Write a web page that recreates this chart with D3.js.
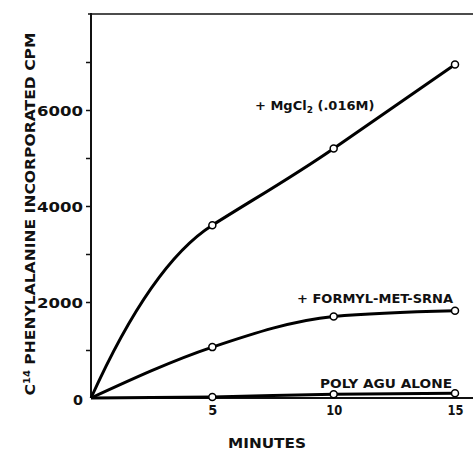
<!DOCTYPE html>
<html>
<head>
<meta charset="utf-8">
<script src="https://cdn.jsdelivr.net/npm/d3@7"></script>
<style>
  body { margin: 0; background: #fff; }
  svg { display: block; font-family: "DejaVu Sans", sans-serif; font-weight: bold; }
</style>
</head>
<body>
<svg id="chart" width="474" height="450"></svg>
<script>
// minutes of incubation
let minutes = [0, 5, 10, 15];

// C14 phenylalanine incorporated, cpm
let mgcl2 = [0, 3600, 5200, 6950];
let formylMet = [0, 1060, 1700, 1820];
let polyAgu = [0, 20, 80, 100];

let yTicks = [0, 1000, 2000, 3000, 4000, 5000, 6000, 7000];
let yLabels = [0, 2000, 4000, 6000];
let xLabels = [5, 10, 15];

let width = 474;
let height = 450;
let margin = { top: 14, right: 1, bottom: 52, left: 91 };
let svg = d3.select("#chart");

let x = d3.scaleLinear()
    .domain([0, 15])
    .range([margin.left, 455]);

let y = d3.scaleLinear()
    .domain([0, 8000])
    .range([height - margin.bottom, margin.top]);

// frame: left axis, top rule, baseline
svg.append("line")
    .attr("x1", x(0)).attr("x2", x(0))
    .attr("y1", y(8000) - 1).attr("y2", y(0))
    .style("stroke", "#111").style("stroke-width", 2);

svg.append("line")
    .attr("x1", x(0) - 3).attr("x2", width - margin.right)
    .attr("y1", y(8000)).attr("y2", y(8000))
    .style("stroke", "#111").style("stroke-width", 1.6);

svg.append("line")
    .attr("x1", x(0)).attr("x2", width - margin.right)
    .attr("y1", y(0)).attr("y2", y(0))
    .style("stroke", "#111").style("stroke-width", 2);

let yAxis = svg.append("g")
    .attr("transform", `translate(${x(0)},0)`)
    .call(d3.axisLeft(y)
        .tickValues(yTicks)
        .tickSize(5)
        .tickPadding(3)
        .tickFormat(d => yLabels.includes(d) ? d : ""));

yAxis.select(".domain").remove();
yAxis.selectAll("line").style("stroke", "#111").style("stroke-width", 1.5);
yAxis.selectAll("text")
    .style("font-size", "14px")
    .style("font-family", "DejaVu Sans")
    .style("font-weight", "bold")
    .style("fill", "#111")
    .attr("textLength", d => d === 0 ? 10 : (yLabels.includes(d) ? 46 : null))
    .attr("lengthAdjust", "spacingAndGlyphs")
    .attr("dy", d => d === 0 ? "0.45em" : "0.36em");
yAxis.selectAll(".tick").filter(d => d === 0).select("line").remove();

let xAxis = svg.append("g")
    .attr("transform", `translate(0,${y(0)})`)
    .call(d3.axisBottom(x)
        .tickValues(xLabels)
        .tickSize(0)
        .tickPadding(7));

xAxis.select(".domain").remove();
xAxis.selectAll("text")
    .style("font-size", "14px")
    .style("font-family", "DejaVu Sans")
    .style("font-weight", "bold")
    .style("fill", "#111")
    .attr("textLength", d => d === 5 ? 9 : 16)
    .attr("lengthAdjust", "spacingAndGlyphs");

// MgCl2 curve is drawn by hand in the original: each point leaves along the
// slope of the next segment and the first segment bends into it
function kneeCurve(values) {
  let pts = values.map((v, i) => [x(minutes[i]), y(v)]);
  let slope = (a, b) => (b[1] - a[1]) / (b[0] - a[0]);
  let n = pts.length;
  let t = pts.map((p, i) => i < n - 1 ? slope(p, pts[i + 1]) : slope(pts[i - 1], p));
  t[0] = 2 * slope(pts[0], pts[1]) - t[1];
  let path = d3.path();
  path.moveTo(pts[0][0], pts[0][1]);
  for (let i = 1; i < n; i++) {
    let p0 = pts[i - 1], p1 = pts[i];
    let dx = (p1[0] - p0[0]) / 3;
    path.bezierCurveTo(p0[0] + dx, p0[1] + dx * t[i - 1], p1[0] - dx, p1[1] - dx * t[i], p1[0], p1[1]);
  }
  return path.toString();
}

let smooth = d3.line()
    .x((d, i) => x(minutes[i]))
    .y(d => y(d))
    .curve(d3.curveMonotoneX);

let series = [mgcl2, formylMet, polyAgu];

svg.append("g")
    .selectAll("path")
    .data(series)
    .join("path")
    .attr("d", d => d === mgcl2 ? kneeCurve(d) : smooth(d))
    .style("fill", "none")
    .style("stroke", "#000")
    .style("stroke-width", 3);

svg.append("g")
    .selectAll("g")
    .data(series)
    .join("g")
    .selectAll("circle")
    .data(d => d.map((v, i) => ({ t: minutes[i], v: v })).filter(p => p.t > 0))
    .join("circle")
    .attr("cx", d => x(d.t))
    .attr("cy", d => y(d.v))
    .attr("r", 3.5)
    .style("fill", "#fff")
    .style("stroke", "#000")
    .style("stroke-width", 1.5);

// series labels
let mgLabel = svg.append("text")
    .attr("x", 255)
    .attr("y", 110)
    .style("font-size", "13px")
    .style("fill", "#111");
mgLabel.append("tspan").text("+ MgCl");
mgLabel.append("tspan").attr("dy", 3).style("font-size", "9px").text("2");
mgLabel.append("tspan").attr("dy", -3).text(" (.016M)");

svg.append("text")
    .attr("x", 297)
    .attr("y", 303)
    .attr("textLength", 156)
    .attr("lengthAdjust", "spacingAndGlyphs")
    .style("font-size", "13px")
    .style("fill", "#111")
    .text("+ FORMYL-MET-SRNA");

svg.append("text")
    .attr("x", 320)
    .attr("y", 388)
    .attr("textLength", 132)
    .attr("lengthAdjust", "spacingAndGlyphs")
    .style("font-size", "13px")
    .style("fill", "#111")
    .text("POLY  AGU  ALONE");

// axis titles
svg.append("text")
    .attr("x", 267)
    .attr("y", 448)
    .attr("text-anchor", "middle")
    .attr("textLength", 78)
    .attr("lengthAdjust", "spacingAndGlyphs")
    .style("font-size", "14px")
    .style("fill", "#111")
    .text("MINUTES");

let yTitle = svg.append("text")
    .attr("transform", "translate(35,214) rotate(-90)")
    .attr("text-anchor", "middle")
    .attr("textLength", 363)
    .attr("lengthAdjust", "spacingAndGlyphs")
    .style("font-size", "14px")
    .style("fill", "#111");
yTitle.append("tspan").text("C");
yTitle.append("tspan").attr("dy", -5).style("font-size", "9px").text("14");
yTitle.append("tspan").attr("dy", 5).text(" PHENYLALANINE  INCORPORATED  CPM");
</script>
</body>
</html>
